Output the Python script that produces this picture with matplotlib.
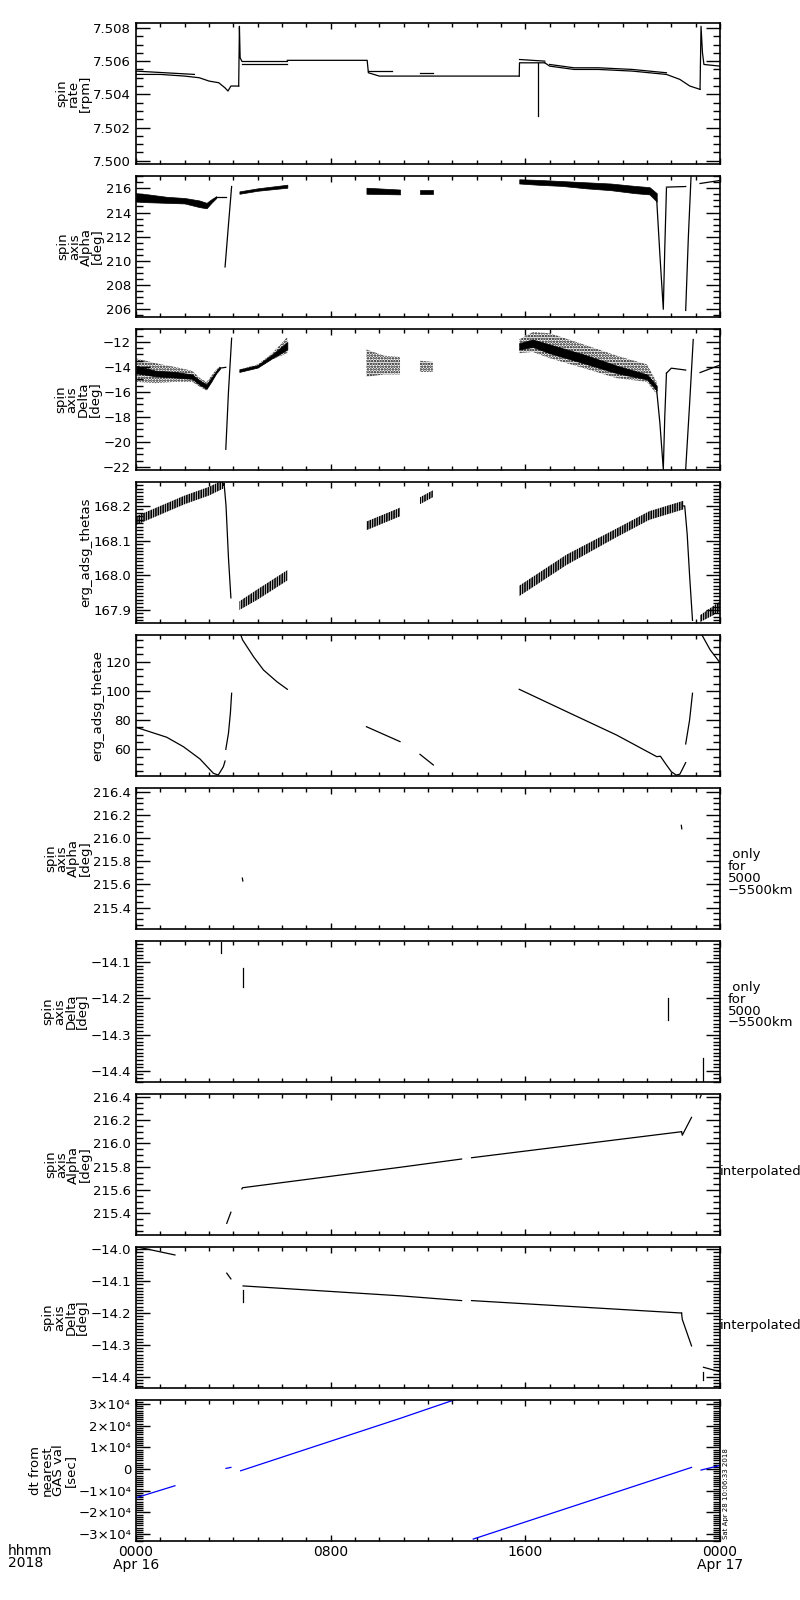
import numpy as np
import matplotlib.pyplot as plt
from matplotlib.ticker import MultipleLocator, FuncFormatter

# time in hours from 0000 Apr 16 2018

# ---- panel 1: spin rate [rpm]
p1_lines = [
    ([0.0, 1.0, 2.0, 2.6, 3.0, 3.4, 3.65, 3.78, 3.9, 4.22], [7.5052, 7.5052, 7.5051, 7.5050, 7.5048, 7.5047, 7.5044, 7.5042, 7.5045, 7.5045]),
    ([0.0, 1.2, 2.4], [7.5054, 7.5053, 7.5052]),
    ([4.22, 4.25, 4.28, 4.35], [7.5045, 7.5081, 7.5062, 7.5060]),
    ([4.35, 6.22], [7.5060, 7.5060]),
    ([4.35, 6.22], [7.5058, 7.5058]),
    ([6.22, 9.5, 9.55, 10.0, 15.75], [7.50605, 7.50605, 7.5053, 7.5051, 7.5051]),
    ([9.55, 10.5], [7.5054, 7.5054]),
    ([11.67, 12.2], [7.5053, 7.5053]),
    ([15.75, 15.76, 16.8], [7.5051, 7.5059, 7.5059]),
    ([15.76, 16.8], [7.5061, 7.5060]),
    ([16.5, 16.5, 16.5], [7.5059, 7.5039, 7.5027]),
    ([16.8, 17.0, 18.0, 19.0, 20.4, 21.8, 22.35, 22.76, 23.18], [7.5059, 7.5057, 7.5055, 7.5055, 7.5054, 7.5052, 7.5049, 7.5045, 7.5043]),
    ([17.0, 18.0, 19.0, 20.4, 21.8], [7.5058, 7.5056, 7.5056, 7.5055, 7.5053]),
    ([23.18, 23.22, 23.28, 23.34, 24.0], [7.5043, 7.5081, 7.5065, 7.5058, 7.5057]),
]
p1_bands = []

# ---- panel 2: spin axis Alpha [deg]
p2_lines = [
    ([3.3, 3.69], [215.27, 215.27]),
    ([3.66, 3.8, 3.93], [209.5, 213.0, 216.15]),
    ([21.4, 21.53, 21.67, 21.73, 21.8], [215.0, 210.5, 206.0, 211.0, 216.0]),
    ([21.8, 22.59], [216.1, 216.15]),
    ([22.59, 22.7, 22.81], [205.9, 212.0, 216.96]),
    ([23.18, 24.0], [216.4, 216.65]),
]
p2_bands = [
    ([0.0, 0.5, 1.26, 2.0, 2.6, 2.9, 3.1, 3.3], [214.9, 214.85, 214.8, 214.75, 214.45, 214.35, 214.8, 215.2], [215.6, 215.5, 215.3, 215.2, 215.0, 214.8, 215.1, 215.35]),
    ([4.25, 5.0, 6.22], [215.55, 215.8, 216.05], [215.75, 216.0, 216.3]),
    ([9.47, 10.85], [215.55, 215.5], [216.05, 215.9]),
    ([11.67, 12.2], [215.55, 215.55], [215.9, 215.9]),
    ([15.75, 16.5, 17.5, 18.5, 19.5, 20.5, 21.1, 21.4], [216.4, 216.3, 216.2, 216.0, 215.85, 215.6, 215.5, 214.9], [216.75, 216.7, 216.6, 216.5, 216.4, 216.2, 216.1, 215.6]),
]

# ---- panel 3: spin axis Delta [deg]
p3_lines = [
    ([3.45, 3.69], [-14.1, -14.03]),
    ([3.69, 3.8, 3.93], [-20.6, -16.0, -11.7]),
    ([21.4, 21.53, 21.67, 21.73, 21.8], [-15.9, -18.5, -22.2, -18.0, -14.5]),
    ([21.8, 22.0, 22.59], [-14.5, -14.1, -14.25]),
    ([22.59, 22.75, 22.9], [-22.2, -17.0, -11.8]),
    ([23.18, 24.0], [-14.45, -13.85]),
]
p3_cores = [
    ([0.0, 0.8, 1.6, 2.3, 2.63, 2.9, 3.1, 3.3, 3.45], [-14.5, -14.75, -14.85, -14.95, -15.45, -15.75, -15.15, -14.5, -14.15], [-13.9, -14.3, -14.4, -14.6, -15.1, -15.4, -14.85, -14.3, -14.0]),
    ([4.25, 5.0, 5.6, 6.22], [-14.4, -14.05, -13.3, -12.6], [-14.2, -13.85, -13.0, -12.0]),
    ([15.75, 16.3, 17.0, 18.4, 19.76, 21.0, 21.4], [-12.6, -12.4, -12.9, -13.7, -14.5, -15.0, -15.9], [-12.1, -11.8, -12.2, -13.0, -13.9, -14.6, -15.5]),
]
p3_bands = [
    ([0.0, 0.8, 1.6, 2.3, 2.63, 2.9, 3.1, 3.3, 3.45], [-15.2, -15.3, -15.2, -15.2, -15.6, -15.9, -15.3, -14.6, -14.25], [-13.3, -13.7, -14.0, -14.3, -14.9, -15.2, -14.7, -14.2, -13.95]),
    ([4.25, 5.0, 5.6, 6.22], [-14.45, -14.1, -13.4, -12.9], [-14.2, -13.8, -12.9, -11.6]),
    ([9.47, 10.2, 10.85], [-14.8, -14.6, -14.6], [-12.6, -13.1, -13.2]),
    ([11.67, 12.2], [-14.4, -14.4], [-13.5, -13.6]),
    ([15.75, 16.3, 17.0, 18.4, 19.76, 21.0, 21.4], [-12.9, -12.8, -13.3, -14.1, -14.9, -15.2, -16.2], [-11.8, -11.2, -11.3, -12.2, -13.1, -13.8, -15.2]),
]

# ---- panel 4: erg_adsg_thetas
p4_lines = [
    ([3.59, 3.62, 3.7, 3.8, 3.9], [168.26, 168.265, 168.2, 168.05, 167.935]),
    ([22.5, 22.55, 22.65, 22.75, 22.87], [168.2, 168.2, 168.12, 168.0, 167.87]),
]
p4_bands = [
    ([0.0, 1.0, 2.0, 3.0, 3.59], [168.145, 168.175, 168.205, 168.23, 168.25], [168.17, 168.2, 168.23, 168.255, 168.275]),
    ([4.25, 5.0, 6.22], [167.9, 167.93, 167.985], [167.925, 167.96, 168.015]),
    ([9.47, 10.85], [168.13, 168.17], [168.155, 168.195]),
    ([11.67, 12.2], [168.205, 168.225], [168.225, 168.245]),
    ([15.75, 17.7, 19.75, 21.1, 22.5], [167.94, 168.03, 168.11, 168.16, 168.19], [167.97, 168.06, 168.135, 168.185, 168.215]),
    ([23.18, 24.0], [167.865, 167.895], [167.885, 167.925]),
]

# ---- panel 5: erg_adsg_thetae
p5_lines = [
    ([0.0, 1.26, 1.95, 2.63, 3.18, 3.38, 3.59, 3.66], [75.1, 68.3, 61.8, 53.4, 43.6, 42.4, 48.1, 52.0]),
    ([3.69, 3.8, 3.88, 3.93], [60.0, 71.0, 85.0, 98.4]),
    ([4.27, 4.38, 4.83, 5.24, 5.79, 6.22], [140.0, 134.9, 123.4, 114.3, 106.3, 101.1]),
    ([9.47, 10.85], [75.5, 65.3]),
    ([11.67, 12.22], [56.6, 49.3]),
    ([15.75, 17.7, 19.75, 21.4, 21.55, 21.8, 22.0, 22.2, 22.35, 22.59], [101.1, 85.8, 69.8, 55.0, 55.3, 49.3, 44.7, 42.4, 43.0, 50.9]),
    ([22.59, 22.75, 22.87], [63.7, 80.0, 98.4]),
    ([23.2, 23.6, 24.0], [140.0, 128.0, 119.3]),
]

# ---- panel 6: spin axis Alpha, only for 5000-5500km
p6_lines = [
    ([4.37, 4.39], [215.655, 215.63]),
    ([22.41, 22.43], [216.11, 216.08]),
]

# ---- panel 7: spin axis Delta, only for 5000-5500km
p7_lines = [
    ([3.49, 3.49], [-14.044, -14.076]),
    ([4.38, 4.38], [-14.117, -14.168]),
    ([21.85, 21.85], [-14.2, -14.26]),
    ([23.32, 23.32], [-14.366, -14.43]),
]

# ---- panel 8: spin axis Alpha, interpolated
p8_lines = [
    ([3.73, 3.9], [215.315, 215.41]),
    ([4.35, 4.38, 10.85, 13.38], [215.61, 215.62, 215.795, 215.866]),
    ([13.79, 22.42], [215.877, 216.1]),
    ([22.42, 22.45, 22.83], [216.1, 216.07, 216.223]),
    ([23.18, 23.22], [216.39, 216.41]),
]

# ---- panel 9: spin axis Delta, interpolated
p9_lines = [
    ([0.0, 1.6], [-13.992, -14.018]),
    ([3.73, 3.9], [-14.075, -14.093]),
    ([4.38, 4.38], [-14.128, -14.164]),
    ([4.4, 10.85, 13.38], [-14.115, -14.146, -14.161]),
    ([13.79, 22.42], [-14.161, -14.2]),
    ([22.42, 22.45, 22.83], [-14.2, -14.22, -14.303]),
    ([23.32, 24.0], [-14.37, -14.384]),
    ([23.3, 23.3], [-14.385, -14.41]),
]

# ---- panel 10: dt from nearest GAS val [sec]
p10_lines = [
    ([0.0, 1.6], [-13240, -7700]),
    ([3.7, 3.9], [320, 780]),
    ([4.3, 10.85, 13.3], [-780, 23400, 32800]),
    ([13.86, 22.83], [-32300, 780]),
    ([23.22, 24.0], [-460, 1700]),
]

panels = [
    dict(lines=p1_lines, bands=p1_bands, cores=[], hatch=None, ylim=(7.4998, 7.5083), major=0.002, minor=0.0005, fmt='%.3f', label='spin\nrate\n[rpm]'),
    dict(lines=p2_lines, bands=p2_bands, cores=[], hatch=None, ylim=(205.36, 217.02), major=2, minor=0.5, fmt='%d', label='spin\naxis\nAlpha\n[deg]'),
    dict(lines=p3_lines, bands=p3_bands, cores=p3_cores, hatch='......', ylim=(-22.26, -10.96), major=2, minor=0.5, fmt='%d', label='spin\naxis\nDelta\n[deg]'),
    dict(lines=p4_lines, bands=p4_bands, cores=[], hatch='|||||||', ylim=(167.8625, 168.269), major=0.1, minor=0.01, fmt='%.1f', label='erg_adsg_thetas'),
    dict(lines=p5_lines, bands=[], cores=[], hatch=None, ylim=(41.76, 138.27), major=20, minor=5, fmt='%d', label='erg_adsg_thetae'),
    dict(lines=p6_lines, bands=[], cores=[], hatch=None, ylim=(215.216, 216.432), major=0.2, minor=0.05, fmt='%.1f', label='spin\naxis\nAlpha\n[deg]'),
    dict(lines=p7_lines, bands=[], cores=[], hatch=None, ylim=(-14.431, -14.042), major=0.1, minor=0.01, fmt='%.1f', label='spin\naxis\nDelta\n[deg]'),
    dict(lines=p8_lines, bands=[], cores=[], hatch=None, ylim=(215.215, 216.423), major=0.2, minor=0.05, fmt='%.1f', label='spin\naxis\nAlpha\n[deg]'),
    dict(lines=p9_lines, bands=[], cores=[], hatch=None, ylim=(-14.435, -13.993), major=0.1, minor=0.01, fmt='%.1f', label='spin\naxis\nDelta\n[deg]'),
    dict(lines=p10_lines, bands=[], cores=[], hatch=None, ylim=(-33200, 31900), major=10000, minor=1000, fmt=None, label='dt from\nnearest\nGAS val\n[sec]'),
]

xticks = [0, 8, 16, 24]
xticklabels = ['0000\nApr 16', '0800', '1600', '0000\nApr 17']


def sci_fmt(v, pos):
    n = int(round(v / 1e4))
    if n == 0:
        return '0'
    return ('%d\u00d710\u2074' % n).replace('-', '\u2212')


plt.rcParams['hatch.linewidth'] = 1.2
fig = plt.figure(figsize=(8, 16), dpi=100)
W, H = 800.0, 1600.0

for i, p in enumerate(panels):
    top = 23 + 153 * i
    ax = fig.add_axes([136 / W, 1 - (top + 141) / H, 584 / W, 141 / H])
    color = 'blue' if i == 9 else 'black'
    for t, lo, hi in p['bands']:
        if p['hatch']:
            ax.fill_between(t, lo, hi, facecolor='none', edgecolor='black', hatch=p['hatch'], lw=0)
        else:
            ax.fill_between(t, lo, hi, color='black', lw=0.5)
    for t, lo, hi in p['cores']:
        ax.fill_between(t, lo, hi, color='black', lw=0.5)
    for t, v in p['lines']:
        ax.plot(t, v, color=color, lw=0.9)
    ax.set_xlim(0, 24)
    ax.set_ylim(*p['ylim'])
    ax.yaxis.set_major_locator(MultipleLocator(p['major']))
    ax.yaxis.set_minor_locator(MultipleLocator(p['minor']))
    if p['fmt'] is None:
        ax.yaxis.set_major_formatter(FuncFormatter(sci_fmt))
    else:
        f = p['fmt']
        ax.yaxis.set_major_formatter(FuncFormatter(lambda v, pos, f=f: (f % v).replace('-', '\u2212')))
    ax.set_xticks(xticks)
    ax.xaxis.set_minor_locator(MultipleLocator(1))
    ax.tick_params(axis='y', which='major', direction='in', length=10, width=1, left=True, right=True, labelsize=9.5)
    ax.tick_params(axis='y', which='minor', direction='in', length=5, width=1, left=True, right=True)
    ax.tick_params(axis='x', which='major', direction='in', length=4, width=1, top=True, bottom=True)
    ax.tick_params(axis='x', which='minor', direction='in', length=3, width=1, top=True, bottom=True)
    for s in ax.spines.values():
        s.set_linewidth(1.2)
    ax.set_ylabel(p['label'], fontsize=9.5, linespacing=0.85, labelpad=1)
    if i == 9:
        ax.set_xticklabels(xticklabels, fontsize=10, linespacing=0.85)
        ax.tick_params(axis='x', pad=3)
    else:
        ax.set_xticklabels([])

# right-hand notes
fig.text(728 / W, 1 - 872 / H, ' only\nfor\n5000\n\u22125500km', fontsize=9.5, va='center', ha='left', linespacing=0.9)
fig.text(728 / W, 1 - 1005 / H, ' only\nfor\n5000\n\u22125500km', fontsize=9.5, va='center', ha='left', linespacing=0.9)
fig.text(720 / W, 1 - 1172 / H, 'interpolated', fontsize=9.5, va='center', ha='left')
fig.text(720 / W, 1 - 1325 / H, 'interpolated', fontsize=9.5, va='center', ha='left')
fig.text(8 / W, 1 - 1557 / H, 'hhmm\n2018', fontsize=10, va='center', ha='left', linespacing=0.85)
fig.text(723 / W, 1 - 1539 / H, 'Sat Apr 28 10:06:33 2018', fontsize=5, rotation=90, va='bottom', ha='left')

fig.savefig('out.png', dpi=100)
